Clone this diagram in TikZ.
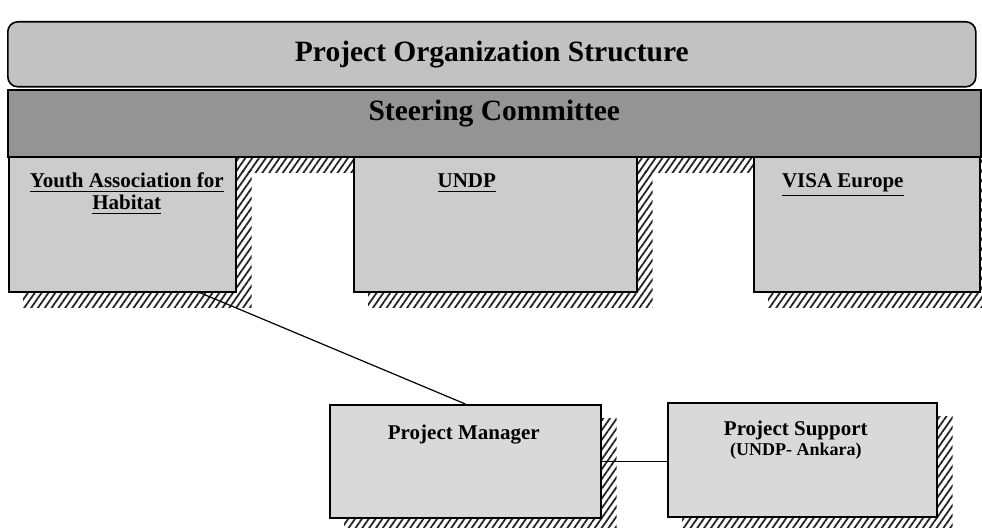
\documentclass[tikz,border=0pt]{standalone}
\usepackage{fontspec}
\setmainfont{Liberation Serif}
\usepackage{tikz}
\usetikzlibrary{patterns.meta, backgrounds}

\definecolor{headgray}{gray}{0.76}
\definecolor{steergray}{gray}{0.58}
\definecolor{unitgray}{gray}{0.8}
\definecolor{staffgray}{gray}{0.85}

\tikzset{
  unitbox/.style={draw, line width=0.8pt, inner sep=0pt, anchor=north west},
  hatchshadow/.style={pattern={Lines[angle=55, distance=2.8pt, line width=0.9pt]}, pattern color=black!85},
  headlabel/.style={font=\fontsize{14.75}{17}\selectfont\bfseries, anchor=base},
  unitlabel/.style={font=\fontsize{10.5}{11}\selectfont\bfseries, align=center, anchor=base},
  link/.style={line width=0.6pt}
}

\begin{document}
\begin{tikzpicture}[x=0.5pt, y=0.5pt]
  \useasboundingbox (0,0) rectangle (982,528);

  % header bars
  \node[unitbox, rounded corners=5pt, fill=headgray, minimum width=484pt, minimum height=32.5pt] (head) at (7,507) {};
  \node[headlabel] (headtxt) at ([yshift=-3.5pt]head.center) {Project Organization Structure};

  \node[unitbox, fill=steergray, minimum width=486.5pt, minimum height=33.5pt] (steer) at (7,439) {};
  \node[headlabel] (steertxt) at ([yshift=1.25pt]steer.center) {Steering Committee};

  % member organisations
  \node[unitbox, fill=unitgray, minimum width=113.5pt, minimum height=67.5pt] (youth) at (8,372) {};
  \node[unitbox, fill=unitgray, minimum width=141.5pt, minimum height=67.5pt] (undp) at (353,372) {};
  \node[unitbox, fill=unitgray, minimum width=113pt, minimum height=67.5pt] (visa) at (753,372) {};

  % two-line labels sit on the baseline of their last line
  \node[unitlabel] (youthtxt) at ([xshift=2.25pt, yshift=-27pt]youth.north) {\underline{Youth Association for}\\\underline{Habitat}};
  \node[unitlabel] (undptxt) at ([xshift=-14.25pt, yshift=-16pt]undp.north) {\underline{UNDP}};
  \node[unitlabel] (visatxt) at ([xshift=-12pt, yshift=-16pt]visa.north) {\underline{VISA Europe}};

  % project staff
  \node[unitbox, fill=staffgray, minimum width=135.5pt, minimum height=56.5pt] (pm) at (329,124) {};
  \node[unitbox, fill=staffgray, minimum width=134.5pt, minimum height=57pt] (ps) at (667,126) {};

  \node[unitlabel] (pmtxt) at ([xshift=-0.75pt, yshift=-18pt]pm.north) {Project Manager};
  \node[unitlabel, font=\fontsize{10.5}{10}\selectfont\bfseries] (pstxt) at ([xshift=-3.25pt, yshift=-27pt]ps.north) {Project Support\\{\fontsize{9}{10}\selectfont (UNDP- Ankara)}};

  \draw[link] ([xshift=-18.5pt]youth.south east) -- (pm.north);
  \draw[link] (pm.east) -- (pm.east -| ps.west);

  \begin{scope}[on background layer]
    \foreach \n in {steer,youth,undp,visa,pm,ps}{
      \path[hatchshadow] ([shift={(7.5pt,-7.5pt)}]\n.south west) rectangle ([shift={(7.5pt,-7.5pt)}]\n.north east);
    }
  \end{scope}
\end{tikzpicture}
\end{document}
